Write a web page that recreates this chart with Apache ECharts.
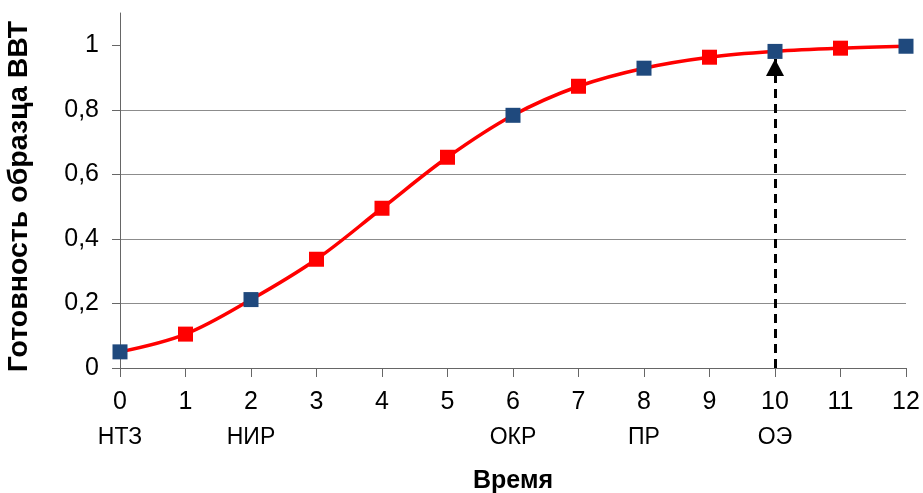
<!DOCTYPE html>
<html>
<head>
<meta charset="utf-8">
<style>
  html, body { margin: 0; padding: 0; background: #fff; }
  #chart { width: 923px; height: 493px; }
</style>
<script src="https://cdn.jsdelivr.net/npm/echarts@6/dist/echarts.min.js"></script>
</head>
<body>
<div id="chart"></div>
<script>
// Time steps and readiness of the sample
const timeSteps = [0, 1, 2, 3, 4, 5, 6, 7, 8, 9, 10, 11, 12];
const readiness = [0.05, 0.105, 0.212, 0.337, 0.495, 0.653, 0.783, 0.873, 0.929, 0.963, 0.981, 0.991, 0.997];
// Stage names shown under the time ticks
const stageLabels = ['НТЗ', '', 'НИР', '', '', '', 'ОКР', '', 'ПР', '', 'ОЭ', '', ''];
// Time steps drawn with the dark blue marker
const milestoneSteps = [0, 2, 6, 8, 10, 12];
// Time step pointed to by the dashed arrow
const arrowStep = 10;
const yTicks = [0, 0.2, 0.4, 0.6, 0.8, 1];

const RED = '#ff0000';
const BLUE = '#1f497d';
const FONT = '"Liberation Sans", Arial, sans-serif';

const points = timeSteps.map((t, i) => ({
  value: [t, readiness[i]],
  itemStyle: { color: milestoneSteps.includes(t) ? BLUE : RED }
}));

const chart = echarts.init(document.getElementById('chart'), null, { renderer: 'canvas' });
chart.setOption({
  animation: false,
  backgroundColor: '#fff',
  grid: { left: 120, right: 17, top: 13, bottom: 125, outerBoundsMode: 'none', containLabel: false },
  xAxis: {
    type: 'value',
    min: 0, max: 12, interval: 1,
    name: 'Время',
    nameLocation: 'middle',
    nameGap: 101,
    nameTextStyle: { fontFamily: FONT, fontSize: 25, fontWeight: 'bold', color: '#000' },
    axisLine: { show: true, lineStyle: { color: '#666', width: 1 } },
    axisTick: { show: true, length: 9, lineStyle: { color: '#666' } },
    splitLine: { show: false },
    axisLabel: {
      margin: 17,
      formatter: v => {
        const s = stageLabels[timeSteps.indexOf(v)] || '';
        return '{n|' + v + '}\n{s|' + (s || ' ') + '}';
      },
      rich: {
        n: { fontFamily: FONT, fontSize: 25, color: '#000', lineHeight: 35 },
        s: { fontFamily: FONT, fontSize: 23, color: '#000', lineHeight: 35 }
      }
    }
  },
  yAxis: {
    type: 'value',
    min: 0, max: 1.1, interval: 0.2,
    name: 'Готовность образца ВВТ',
    nameLocation: 'middle',
    nameGap: 86,
    nameTextStyle: {
      fontFamily: FONT, fontSize: 28.5, fontWeight: 'bold', color: '#000',
      padding: [0, 12, 0, 0]
    },
    axisLine: { show: true, lineStyle: { color: '#666', width: 1 } },
    axisTick: { show: true, length: 8, lineStyle: { color: '#666' }, customValues: yTicks },
    axisLabel: {
      customValues: yTicks,
      margin: 21,
      fontFamily: FONT, fontSize: 25, color: '#000',
      formatter: v => String(v).replace('.', ',')
    },
    splitLine: { show: true, showMaxLine: false, lineStyle: { color: '#8c8c8c', width: 1 } }
  },
  series: [{
    type: 'line',
    data: points,
    smooth: 0.35,
    symbol: 'rect',
    symbolSize: 15,
    lineStyle: { color: RED, width: 3.5 },
    z: 3,
    markLine: {
      silent: true,
      z: 2,
      symbol: ['none', 'triangle'],
      symbolSize: [18, 17],
      label: { show: false },
      lineStyle: { color: '#000', width: 3, type: [9, 6] },
      data: [[
        { coord: [arrowStep, 0] },
        { coord: [arrowStep, readiness[timeSteps.indexOf(arrowStep)]], symbolOffset: [0, 16] }
      ]]
    }
  }]
});
</script>
</body>
</html>
